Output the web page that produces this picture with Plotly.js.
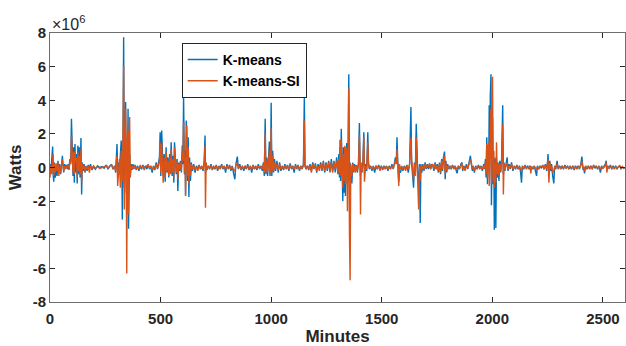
<!DOCTYPE html>
<html>
<head>
<meta charset="utf-8">
<script src="https://cdn.plot.ly/plotly-3.0.1.min.js"></script>
<style>html,body{margin:0;padding:0;background:#fff;}#chart{width:626px;height:346px;}</style>
</head>
<body>
<div id="chart"></div>
<script>
// Minutes (x), values in units of 1e6 W
const minutes = [
  0,4,8,12,14,17,20,24,28,32,36,40,44,48,52,56,58,62,66,70,74,78,82,86,90,94,97,100,104,107,110,113,116,120,123,126,129,132,136,140,143,146,150,154,158,
  163,168,173,178,183,190,197,205,215,225,235,245,255,262,270,278,285,292,
  297,300,303,306,310,314,318,322,325,327,330,333,336,339,342,345,347,350,353,355,357,360,363,367,371,375,379,
  384,390,396,402,408,414,420,426,432,438,444,450,456,462,468,474,480,486,491,
  495,498,501,505,508,512,516,521,525,529,533,537,541,545,548,552,556,560,563,567,571,575,578,582,586,590,594,598,601,604,608,611,613,616,619,622,625,628,631,635,639,644,650,656,662,668,674,680,686,692,697,701,703,706,710,
  716,722,728,734,740,746,752,758,764,770,776,782,788,794,800,806,812,818,824,830,836,840,847,852,858,864,870,876,882,888,894,900,906,912,918,924,930,936,942,948,954,960,
  965,969,973,976,980,984,988,992,995,998,1000,1003,1007,1011,1015,1020,
  1026,1032,1038,1044,1050,1056,1062,1068,1074,1080,1086,1092,1098,1104,1110,1116,1122,1128,1134,1140,1146,1150,1153,1158,
  1164,1170,1176,1182,1188,1194,1200,1206,1212,1218,1224,1230,1236,1242,1248,1254,1260,1266,1272,1278,1284,1290,1296,1302,
  1306,1309,1311,1314,1317,1320,1324,1327,1330,1333,1336,1339,1342,1345,1348,1351,1354,1357,1360,1365,1369,1373,1377,1381,1385,1390,1395,1399,1402,1404,1407,1411,1415,1419,1422,1427,1432,1437,1440,1444,
  1450,1456,1462,1468,1474,1480,1486,1492,1498,1504,1510,1516,1522,1528,1534,1540,1546,1552,1558,1562,1566,1569,1572,1577,1580,1585,1590,1596,1602,1608,1614,1620,1626,1632,1635,1639,1644,1648,1652,1656,1659,1663,1667,1671,1674,1677,1681,1686,1691,1696,1701,1706,1711,1716,1721,1726,1731,1736,1741,1746,1751,1756,1761,1766,1771,1775,1779,1784,1787,1790,1794,1798,1803,1808,1814,1820,1826,1832,1837,1841,1846,1852,1858,1863,1866,1871,1877,1883,1889,1895,1901,1905,1910,1914,1919,1925,1931,1937,1943,1949,1955,1961,1965,
  1969,1972,1975,1978,1981,1984,1986,1989,1991,1994,1996,1999,2001,2004,2007,2009,2012,2016,2019,2022,2026,2030,2034,2038,2042,2047,2050,2053,2057,
  2062,2067,2071,2076,2081,2087,2093,2099,2105,2111,2117,2123,2128,2132,2136,2142,2148,2154,2160,2166,2171,2174,2178,2184,2190,2196,2200,2204,2210,2216,2222,2228,2234,2240,2246,2250,2252,2256,2260,2264,2268,2273,2278,2282,2287,2293,2298,2304,2310,2316,2322,2328,2334,2340,2346,2352,2358,2364,2370,2376,2382,2388,2394,2400,2405,2410,2414,2417,2422,2428,2434,2440,2446,2452,2458,2464,2470,2476,2482,2489,2494,2500,2506,2511,2515,2518,2522,2528,2534,2540,2546,2552,2558,2564,2570,2576,2582,2588,2594,2600
];
const kmeans = [
  0.2,-0.3,0.5,1.25,-0.4,-0.85,0.3,-0.6,0.1,-0.5,0.4,-0.2,0.2,-0.4,0.1,0.7,0.3,-0.3,0.2,0.0,0.15,-0.1,0.2,-0.15,0.5,0.3,2.9,0.6,-0.5,1.2,-0.9,1.4,-0.3,0.8,-0.95,1.3,-0.4,1.2,-0.6,1.75,-1.6,0.3,-0.2,0.2,-0.3,
  0.1,-0.2,0.15,-0.1,0.2,-0.15,0.05,-0.1,0.1,0.0,0.05,-0.05,0.15,-0.1,0.05,0.2,-0.1,0.1,
  -0.3,0.8,1.4,-0.4,0.3,-0.2,0.6,1.6,0.2,-3.1,1.0,7.75,-1.2,0.6,3.9,-1.5,0.5,-0.6,3.5,-3.65,0.2,0.8,-0.4,0.2,-0.15,0.2,-0.1,
  0.15,-0.1,0.1,-0.2,0.05,-0.1,0.15,-0.05,0.1,-0.1,0.2,-0.1,0.05,-0.3,0.1,-0.15,0.3,-0.1,0.2,
  0.6,2.1,-0.5,2.2,0.4,-0.5,0.8,-0.85,1.2,-0.3,0.6,-0.6,0.8,-0.2,1.5,-0.5,0.7,-0.9,1.5,0.4,-0.4,0.5,-1.4,0.3,-0.2,0.4,-0.3,1.3,0.2,4.2,-0.4,1.0,-1.65,2.8,0.5,-0.8,1.8,-1.75,0.6,-0.8,0.3,-0.2,0.2,-0.3,0.1,-0.1,0.15,-0.1,0.05,-0.2,0.3,1.9,-0.3,0.2,-0.15,
  0.1,-0.1,0.2,-0.15,0.05,-0.1,0.15,-0.2,0.1,-0.05,0.2,-0.1,0.1,-0.3,0.2,-0.1,0.15,-0.2,0.1,-0.35,-0.7,0.15,0.65,-0.1,0.2,-0.15,0.1,-0.2,0.1,-0.1,0.2,-0.15,0.1,-0.3,0.15,-0.1,0.05,-0.15,0.2,-0.1,0.1,-0.2,
  0.3,-0.5,2.9,-0.4,0.6,-0.5,0.4,1.55,-0.5,0.8,3.85,-0.5,1.0,-0.3,0.5,-0.2,
  0.4,-0.3,0.3,-0.2,0.1,-0.15,0.2,-0.1,0.15,-0.2,0.25,-0.1,0.1,-0.3,0.2,-0.1,0.15,-0.2,0.1,-0.1,0.2,4.15,0.1,-0.1,
  0.1,-0.15,0.2,-0.2,0.3,-0.1,0.25,-0.3,0.2,-0.1,0.3,-0.2,0.4,-0.3,0.3,-0.2,0.4,-0.3,0.5,-0.2,0.4,-0.3,0.6,-0.4,
  0.8,-0.6,1.2,-0.8,2.3,0.3,-2.0,1.2,-1.5,1.0,-1.7,0.6,1.45,-1.0,0.5,5.55,-0.8,0.3,-0.4,-0.95,0.3,-0.3,0.2,-0.2,0.15,-0.3,0.3,2.65,0.2,-0.5,0.2,-0.3,0.4,2.1,-0.35,0.2,-0.2,2.1,0.3,-0.1,
  0.1,-0.2,0.1,-0.3,0.1,-0.1,0.15,-0.1,0.1,-0.15,0.1,-0.05,0.1,-0.2,0.1,-0.1,0.2,-0.1,0.3,0.6,0.3,1.8,0.5,-0.85,-0.2,-0.3,0.1,-0.2,0.1,-0.1,0.15,-0.3,0.2,3.6,0.3,-0.5,-1.2,0.3,-0.3,2.6,0.3,-0.5,-1.0,0.2,-3.3,0.2,-0.3,0.2,-0.2,0.3,-0.1,0.2,-0.1,0.25,-0.1,0.2,0.1,-0.2,0.3,-0.1,0.2,-0.3,0.3,-0.4,0.5,-0.2,0.6,0.95,-0.7,0.4,-0.3,0.2,-0.1,0.1,-0.1,0.15,-0.05,0.1,-0.2,-0.35,0.1,-0.1,0.2,0.3,-0.2,0.1,-0.1,0.2,-0.1,0.3,0.7,0.2,-0.2,0.1,-0.3,0.1,-0.1,0.15,-0.05,0.1,-0.2,0.2,-0.1,
  0.5,-0.6,1.8,-1.0,1.3,0.2,3.7,0.5,4.3,5.55,-2.25,1.0,3.0,-1.0,0.5,-3.7,0.6,-3.6,0.5,-0.6,0.3,-0.8,0.4,-0.3,0.5,3.7,-0.4,0.3,-0.2,
  0.2,0.6,-0.2,0.2,-0.1,0.3,-0.2,0.1,-0.1,0.15,-0.1,0.1,-0.3,-0.9,0.1,-0.1,0.15,-0.05,0.1,-0.1,0.1,-0.1,0.05,-0.1,0.1,-0.2,-0.5,0.1,-0.1,0.1,-0.05,0.15,-0.1,0.2,-0.2,0.4,0.8,-0.3,0.4,-0.2,0.2,-0.5,-0.95,0.1,-0.1,0.4,-0.1,0.1,-0.05,0.1,-0.1,0.15,-0.05,0.1,-0.1,0.05,-0.1,0.1,-0.15,0.1,-0.05,0.1,-0.1,0.2,0.65,-0.1,-0.1,-0.35,0.1,-0.1,0.1,-0.05,0.1,-0.1,0.15,-0.05,0.1,-0.1,0.1,-0.3,0.1,-0.05,0.1,0.2,0.4,-0.1,0.1,-0.05,0.15,-0.1,0.1,-0.05,0.1,-0.1,0.05,0.1,-0.1,0.05,-0.05,0.0
];
const kmeansSI = [
  -0.6,0.1,-0.4,0.3,0.8,-0.5,0.2,-0.3,0.25,-0.2,0.3,-0.5,0.1,-0.3,0.2,0.5,0.2,-0.2,0.1,-0.1,0.1,0.0,0.15,-0.1,0.4,0.2,1.9,1.0,-0.3,0.9,-0.4,1.0,0.3,0.6,-0.6,0.9,-0.2,0.7,-0.4,1.1,-0.9,0.2,-0.1,0.1,-0.2,
  0.05,-0.1,0.1,-0.3,0.1,-0.05,0.1,-0.05,0.05,-0.05,0.0,0.05,0.1,-0.05,0.1,0.15,-0.05,0.05,
  -0.2,0.4,0.7,-1.1,0.2,0.5,-1.2,1.0,0.5,-0.8,1.5,6.05,-2.5,0.3,3.5,-0.8,-6.3,1.8,2.2,-2.8,0.5,3.0,-0.6,0.1,-0.1,0.1,-0.05,
  0.1,-0.15,0.05,-0.1,0.15,-0.05,0.1,-0.15,0.05,0.1,0.15,-0.05,0.1,-0.15,0.05,-0.1,0.2,-0.05,0.1,
  0.4,1.5,-0.3,1.4,0.3,-0.9,0.6,-0.6,0.9,-0.2,0.4,-0.5,0.6,-0.4,1.1,-0.3,0.5,-0.6,1.2,0.2,-0.3,0.4,-0.7,0.2,-0.1,0.3,-0.2,0.9,0.4,2.7,-0.3,0.6,-1.7,1.5,2.5,-0.5,1.2,-1.0,0.3,-0.5,0.2,-0.1,0.1,-0.15,0.05,-0.2,0.1,-0.05,0.1,-0.1,0.2,1.3,-2.4,0.3,-0.1,
  0.05,-0.05,0.1,-0.1,0.1,-0.05,0.1,-0.1,0.05,-0.1,0.15,-0.05,0.05,-0.1,0.1,-0.05,0.1,-0.1,0.05,-0.15,-0.2,0.1,0.3,-0.05,0.1,-0.1,0.05,-0.05,0.1,-0.05,0.1,-0.1,0.05,-0.1,0.1,-0.05,0.1,-0.05,0.1,-0.05,0.05,-0.1,
  0.2,-0.3,2.0,-0.3,0.4,-0.3,0.3,1.0,-0.4,0.5,2.35,-0.3,0.7,-0.2,0.3,-0.1,
  0.2,-0.15,0.2,-0.1,0.05,-0.1,0.1,-0.05,0.1,-0.1,0.15,-0.05,0.05,-0.1,0.1,-0.05,0.1,-0.1,0.05,-0.05,0.1,2.8,0.05,-0.05,
  0.1,-0.05,0.1,-0.3,0.2,-0.05,0.15,-0.2,0.1,-0.2,0.2,-0.1,0.3,-0.2,0.2,-0.1,0.3,-0.2,0.3,-0.3,0.3,-0.1,0.4,-0.3,
  0.5,-0.4,1.65,-0.5,1.65,-0.3,-1.2,0.8,-0.8,1.3,-1.0,1.2,1.0,-2.6,0.3,4.7,-3.8,-6.7,0.2,-0.5,0.2,-0.2,0.1,-0.3,0.1,-0.2,0.2,1.95,0.1,-2.8,0.3,-0.2,0.2,1.8,-0.85,0.1,-0.1,1.5,0.2,-0.05,
  0.05,-0.1,0.05,-0.1,0.1,-0.05,0.1,-0.2,0.05,-0.1,0.05,-0.1,0.05,-0.1,0.05,-0.05,0.1,-0.05,0.2,0.4,0.2,1.1,0.3,-1.1,0.2,-0.1,0.05,-0.1,0.05,-0.2,0.1,-0.1,0.2,1.8,0.5,-0.3,-0.7,0.2,-0.5,1.8,0.2,-0.8,-2.5,0.1,-0.8,0.1,-0.1,0.1,-0.1,0.2,-0.05,0.1,0.05,0.2,-0.1,0.1,0.2,-0.1,0.2,-0.1,0.1,-0.2,0.2,-0.3,0.4,-0.1,0.5,0.7,-0.4,0.3,-0.2,0.1,-0.05,0.05,-0.05,0.1,-0.1,0.05,-0.05,-0.1,0.05,-0.05,0.1,0.25,-0.1,0.05,-0.2,0.1,-0.05,0.3,0.5,0.3,-0.1,0.05,-0.2,0.05,-0.05,0.1,-0.1,0.05,-0.1,0.1,-0.05,
  0.3,-0.4,1.4,-0.6,1.0,1.5,-1.1,1.7,2.0,3.5,-1.0,2.0,5.4,-0.8,1.0,-1.2,0.3,-0.9,1.5,-0.4,0.2,-0.5,0.2,-0.2,0.3,2.55,-1.6,0.2,-0.1,
  0.1,0.3,-0.1,0.1,-0.05,0.2,-0.1,0.05,-0.05,0.1,-0.05,0.05,-0.1,-0.2,0.05,-0.05,0.1,-0.1,0.05,-0.05,0.1,-0.35,0.05,-0.05,0.05,-0.05,-0.1,0.05,-0.05,0.05,0.05,0.1,-0.1,0.15,-0.1,0.3,0.5,-0.9,0.3,-0.1,0.1,-0.3,-0.2,0.05,-0.05,0.2,-0.05,0.05,-0.1,0.05,-0.05,0.1,-0.05,0.05,-0.05,0.1,-0.05,0.05,-0.1,0.05,-0.1,0.05,-0.05,0.1,0.4,-0.05,0.05,-0.2,0.05,-0.05,0.05,-0.1,0.05,-0.05,0.1,0.05,0.05,-0.05,0.05,-0.1,0.05,-0.05,0.05,0.1,0.3,-0.3,0.05,-0.05,0.1,-0.05,0.05,-0.1,0.05,-0.05,0.05,0.1,-0.05,0.05,-0.05,0.0
];
const xTicks = [0, 500, 1000, 1500, 2000, 2500];
const yTicks = [-8, -6, -4, -2, 0, 2, 4, 6, 8];
const seriesNames = ['K-means', 'K-means-SI'];

if (minutes.length !== kmeans.length || minutes.length !== kmeansSI.length) {
  console.error('length mismatch', minutes.length, kmeans.length, kmeansSI.length);
}

const font = {family: 'Liberation Sans, Arial, sans-serif', color: '#262626'};
const traces = [
  {x: minutes, y: kmeans, type: 'scatter', mode: 'lines', name: seriesNames[0],
   line: {color: '#0072BD', width: 1.4}},
  {x: minutes, y: kmeansSI, type: 'scatter', mode: 'lines', name: seriesNames[1],
   line: {color: '#D95319', width: 1.4}}
];
const axisCommon = {
  showline: true, linecolor: '#6e6e6e', linewidth: 1, mirror: 'allticks',
  ticks: 'inside', ticklen: 5, tickcolor: '#262626', tickwidth: 1,
  showgrid: false, zeroline: false,
  tickfont: Object.assign({}, font, {size: 15, weight: 'bold'})
};
const layout = {
  width: 626, height: 346,
  margin: {l: 50, r: 1, t: 33, b: 44},
  paper_bgcolor: '#fff', plot_bgcolor: '#fff',
  showlegend: true,
  legend: {x: 0.229, y: 0.963, xanchor: 'left', yanchor: 'top',
    bgcolor: '#fff', bordercolor: '#262626', borderwidth: 1,
    font: Object.assign({}, font, {size: 14, weight: 'bold', color: '#000'}),
    tracegroupgap: 0, itemwidth: 30},
  xaxis: Object.assign({}, axisCommon, {
    range: [0, 2600], tickvals: xTicks, ticktext: xTicks.map(String),
    ticklabelstandoff: 3,
    title: {text: 'Minutes', font: Object.assign({}, font, {size: 17, weight: 'bold'}), standoff: 2}
  }),
  yaxis: Object.assign({}, axisCommon, {
    range: [-8, 8], tickvals: yTicks, ticktext: yTicks.map(String),
    title: {text: 'Watts', font: Object.assign({}, font, {size: 17, weight: 'bold'}), standoff: 6}
  }),
  annotations: [{
    xref: 'paper', yref: 'paper', x: 0, y: 1, xanchor: 'left', yanchor: 'bottom',
    text: '×10<sup>6</sup>', showarrow: false, yshift: -2,
    font: Object.assign({}, font, {size: 16})
  }]
};
Plotly.newPlot('chart', traces, layout, {displayModeBar: false, staticPlot: true});
</script>
</body>
</html>
